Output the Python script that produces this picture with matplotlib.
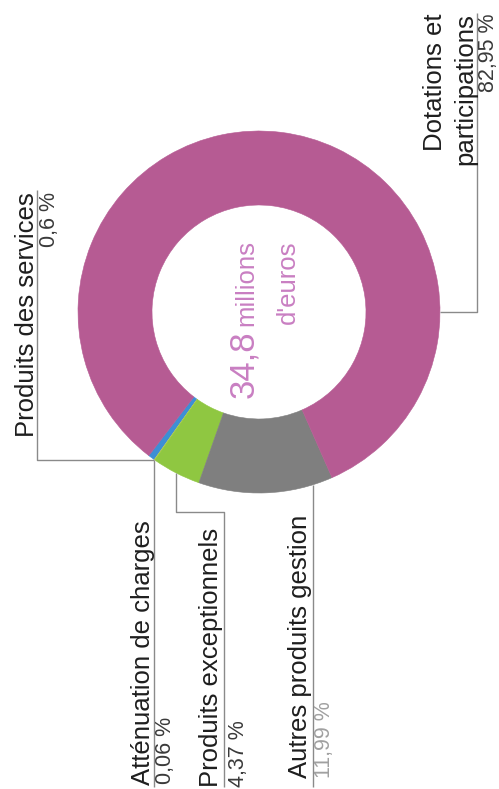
import matplotlib
matplotlib.use('Agg')
import numpy as np
import matplotlib.pyplot as plt

plt.rcParams['font.family'] = ['Liberation Sans', 'DejaVu Sans']

# data, ccw order starting at the blue slice
labels = ['Produits des services', 'Atténuation de charges', 'Produits exceptionnels',
          'Autres produits gestion', 'Dotations et\nparticipations']
shares = [0.6, 0.06, 4.37, 11.99, 82.95]
pct_labels = ['0,6 %', '0,06 %', '4,37 %', '11,99 %', '82,95 %']
colors = ['#3d8fd5', '#c9d34e', '#8fc741', '#7f7f7f', '#b65b93']
total_text = '34,8'
unit_text = ['millions', "d'euros"]

pink = '#c97fc2'
line_col = '#8a8a8a'
dark = '#1e1e1e'

W, H = 499, 789
fig = plt.figure(figsize=(W / 100, H / 100), dpi=100)
ax = fig.add_axes([0, 0, 1, 1])

cx, cy = 259, 477
R, r_in = 181, 107
start = 232.5

wedges, _ = ax.pie(shares, colors=colors, startangle=start, counterclock=True,
                   radius=R, center=(cx, cy),
                   wedgeprops=dict(width=R - r_in, linewidth=0), frame=True)
# hide the antialiasing seams between slices
for w, c in zip(wedges, colors):
    w.set_edgecolor(c)
    w.set_linewidth(0.4)
ax.set_xlim(0, W)
ax.set_ylim(0, H)
ax.set_aspect('equal')
ax.axis('off')


def ring_point(deg, rad=R):
    a = np.deg2rad(deg)
    return cx + rad * np.cos(a), cy + rad * np.sin(a)


def leader(pts):
    xs, ys = zip(*pts)
    ax.plot(xs, ys, color=line_col, lw=1.0, solid_capstyle='butt')


# leader lines
bx, by = ring_point(wedges[0].theta2)
leader([(bx, by), (37, by), (37, 599)])           # services
leader([(bx, by), (bx, 2)])                       # attenuation
gx, gy = ring_point((wedges[2].theta1 + wedges[2].theta2) / 2)
leader([(gx, gy), (gx, 277), (224, 277), (224, 2)])   # exceptionnels
ax_x = 313
ax_y = cy - np.sqrt(R ** 2 - (ax_x - cx) ** 2)
leader([(ax_x, ax_y), (ax_x, 2)])                 # autres
dx, dy = ring_point(0)
leader([(dx, dy), (477, dy), (477, 776)])         # dotations

big = 18.5
small = 15.5


def label(x, y, s, size=big, ha='left', color=dark):
    ax.text(x, y, s, rotation=90, rotation_mode='anchor', ha=ha, va='baseline',
            fontsize=size, color=color)


# top labels (right aligned in rotated frame)
label(34, 597, labels[0], ha='right')
label(55, 597, pct_labels[0], size=small, ha='right', color='#3a3a3a')

dot_lines = labels[4].split('\n')
label(442, 776, dot_lines[0], ha='right')
label(472, 776, dot_lines[1], ha='right')
label(494, 776, pct_labels[4], size=small, ha='right', color='#3a3a3a')

# bottom labels (left aligned in rotated frame)
label(150, 4, labels[1])
label(171, 5, pct_labels[1], size=small, color='#3a3a3a')
label(218, 2, labels[2])
label(244, 2, pct_labels[2], size=small, color='#3a3a3a')
label(307, 11, labels[3])
label(330, 11, pct_labels[3], size=small, color='#a0a0a0')

# centre text
label(253, 391, total_text, size=25, color=pink)
label(253, 549, unit_text[0], size=18.5, ha='right', color=pink)
label(295, 549, unit_text[1], size=18.5, ha='right', color=pink)

fig.savefig('out.png', dpi=100, facecolor='white')
